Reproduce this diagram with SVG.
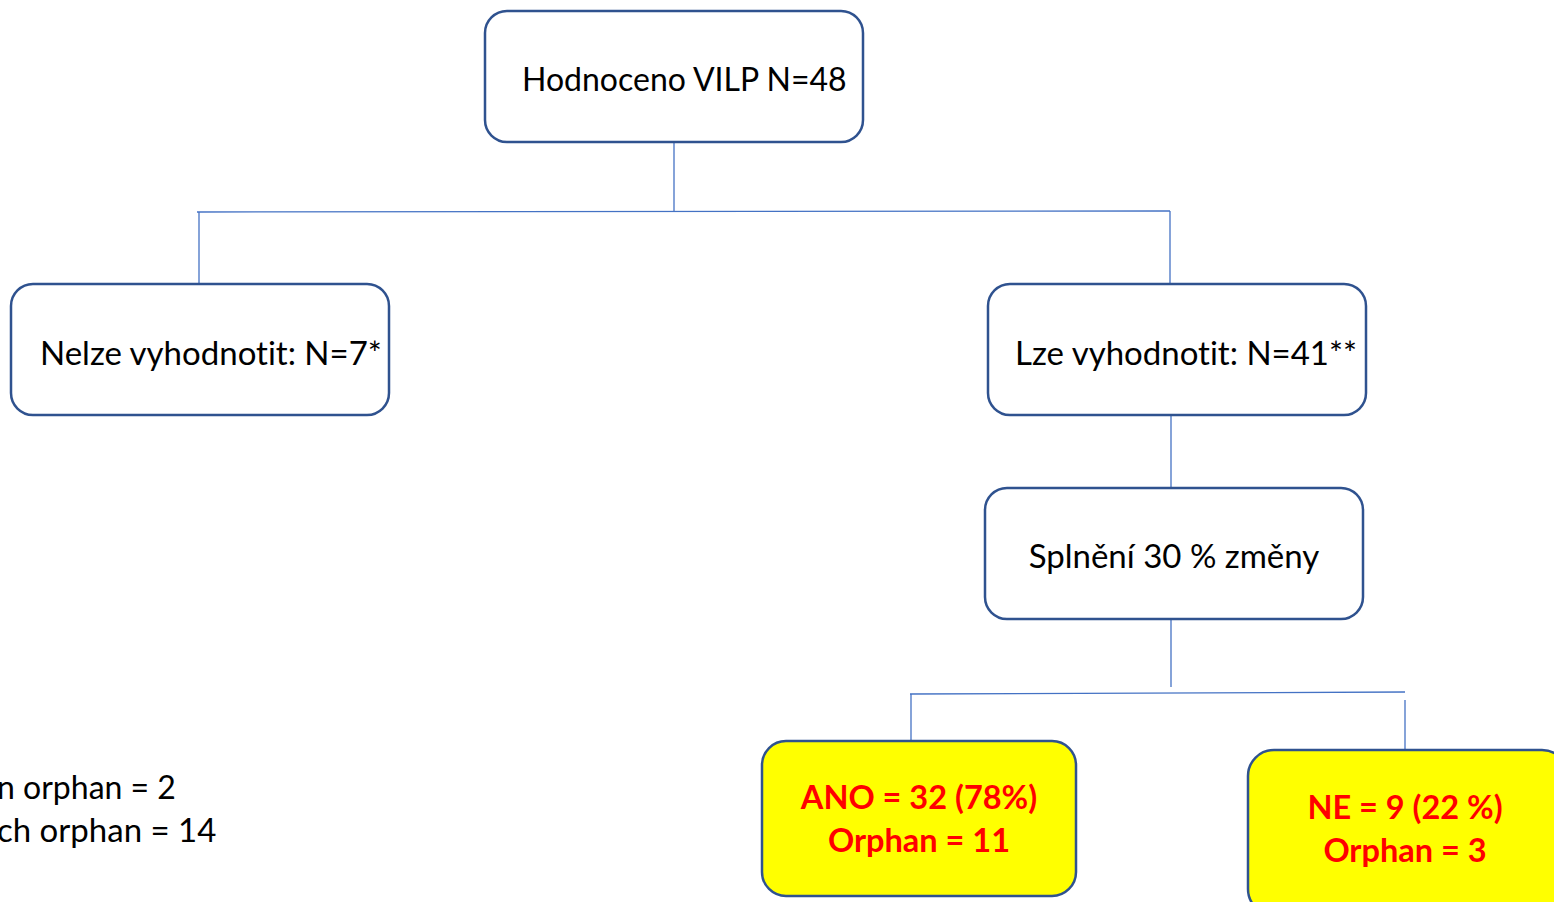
<svg xmlns="http://www.w3.org/2000/svg" width="1554" height="902" viewBox="0 0 1554 902">
<style>
.box{fill:#ffffff;stroke:#2F528F;stroke-width:2.5}
.yel{fill:#FFFF00;stroke:#2F528F;stroke-width:2.5}
.t{font-family:Lato,"Open Sans",sans-serif;font-size:33px;fill:#000000;font-variant-ligatures:none}
.r{font-family:Lato,"Open Sans",sans-serif;font-size:32.5px;font-weight:bold;fill:#FF0000;text-anchor:middle;font-variant-ligatures:none}
.c{fill:none;stroke:#4472C4;stroke-width:1.3}
</style>
<rect width="1554" height="902" fill="#ffffff"/>
<g id="connectors">
<path class="c" d="M674,142 V211"/>
<path class="c" d="M197,212 L1170,211"/>
<path class="c" d="M199,212 V283"/>
<path class="c" d="M1170,211 V283"/>
<path class="c" d="M1171,415 V487"/>
<path class="c" d="M1171,618 V687"/>
<path class="c" d="M910,694 L1405,692"/>
<path class="c" d="M911,694 V742"/>
<path class="c" d="M1405,700 V750"/>
</g>
<g id="n1">
<rect class="box" x="485" y="11" width="378" height="131" rx="22"/>
<text class="t" x="522" y="91" style="font-size:32px">Hodnoceno VILP N=48</text>
</g>
<g id="n2">
<rect class="box" x="11" y="284" width="378" height="131" rx="22"/>
<text class="t" x="40" y="365">Nelze vyhodnotit: N=7*</text>
</g>
<g id="n3">
<rect class="box" x="988" y="284" width="378" height="131" rx="22"/>
<text class="t" x="1015" y="365">Lze vyhodnotit: N=41**</text>
</g>
<g id="n4">
<rect class="box" x="985" y="488" width="378" height="131" rx="22"/>
<text class="t" x="1174" y="568" text-anchor="middle">Splnění 30 % změny</text>
</g>
<g id="n5">
<rect class="yel" x="762" y="741" width="314" height="155" rx="24"/>
<text class="r" x="919" y="809">ANO = 32 (78%)</text>
<text class="r" x="919" y="852">Orphan = 11</text>
</g>
<g id="n6">
<rect class="yel" x="1248" y="750" width="320" height="165" rx="26"/>
<text class="r" x="1405" y="819">NE = 9 (22 %)</text>
<text class="r" x="1405" y="862">Orphan = 3</text>
</g>
<g id="notes">
<text class="t" x="-3" y="799" style="font-size:32px">n orphan = 2</text>
<text class="t" x="-3" y="842">ch orphan = 14</text>
</g>
</svg>
